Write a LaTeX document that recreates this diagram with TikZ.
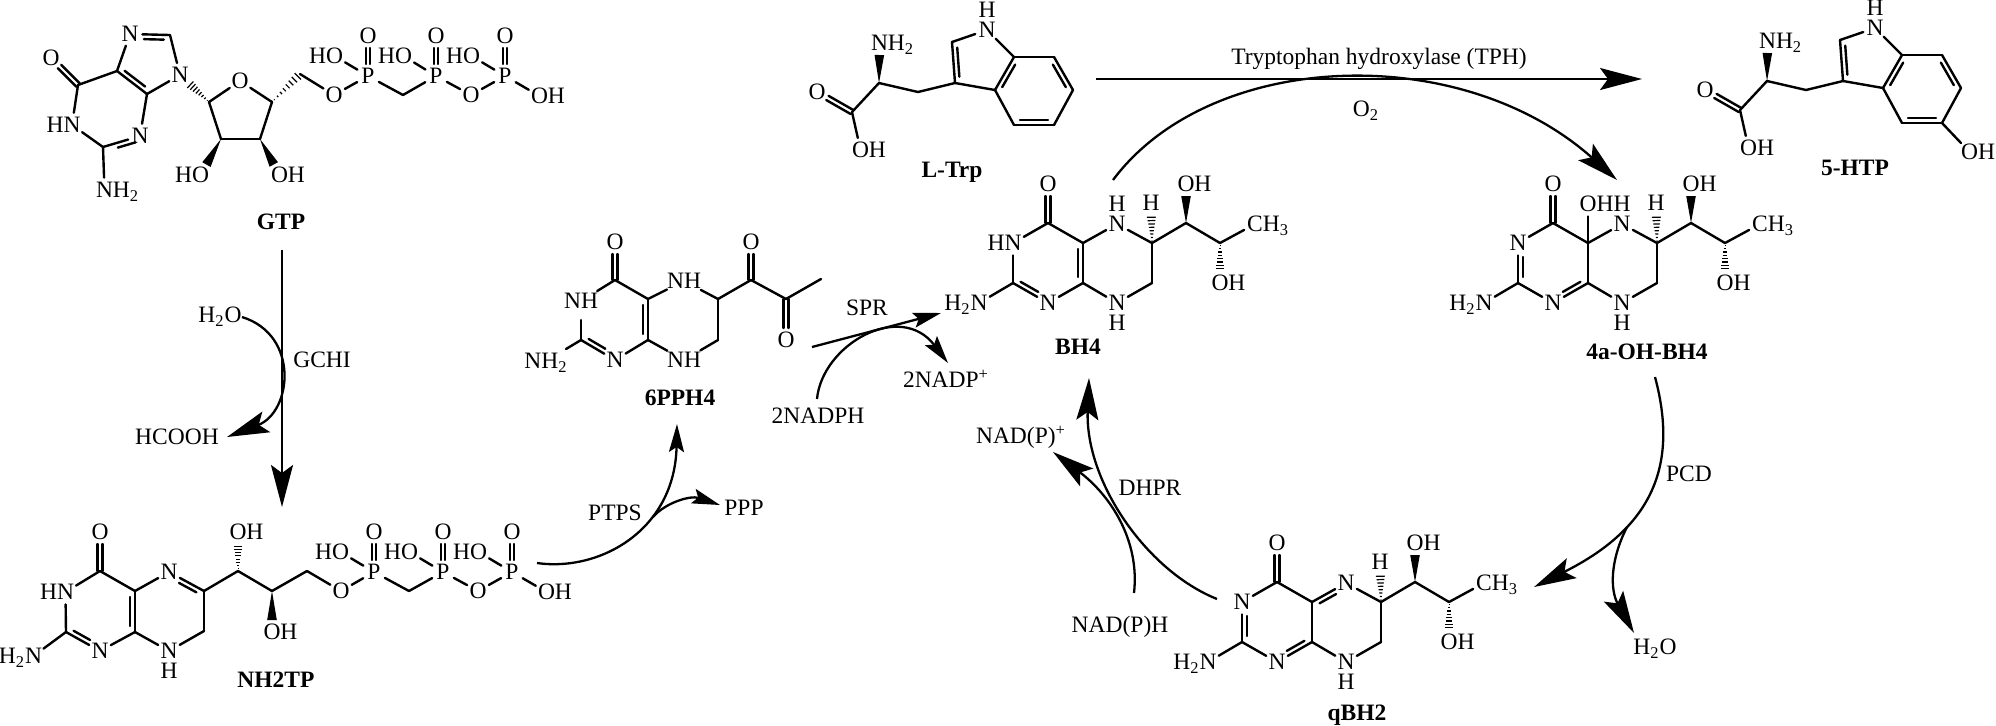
\documentclass[tikz,border=0pt]{standalone}
\usepackage{fontspec}
\setmainfont{Liberation Serif}
\usetikzlibrary{calc,arrows.meta}
\tikzset{
  atom/.style={circle,inner sep=0pt,minimum size=12pt,text height=7.8pt,text depth=0pt,font=\fontsize{11.75}{13}\selectfont},
  lbl/.style={inner sep=0pt,text height=7.8pt,text depth=0pt,font=\fontsize{11.75}{13}\selectfont},
  name lbl/.style={lbl,font=\fontsize{11.75}{13}\selectfont\bfseries},
  bond/.style={line width=1.2pt,line cap=round,line join=round},
  rxn/.style={line width=1.15pt},
  big/.style={rxn,-{Stealth[length=21pt,width=11pt,inset=4pt]}},
  small/.style={rxn,-{Stealth[length=14pt,width=7.5pt,inset=2.5pt]}},
}
\newcommand\atm[3]{\node[atom] (#1) at (#2) {#3};}
\newcommand\crd[2]{\coordinate (#1) at (#2);}
\newcommand\bd[2]{\draw[bond] (#1) -- (#2);}
% parallel line: a, b, offset, trim at a, trim at b
\newcommand\pl[5]{%
  \coordinate (tmpP) at ($(#1)!#3!90:(#2)$);
  \coordinate (tmpQ) at ($(#2)!#3!-90:(#1)$);
  \draw[bond] ($(tmpP)!#4!(tmpQ)$) -- ($(tmpQ)!#5!(tmpP)$);}
\newcommand\dbl[3]{\bd{#1}{#2}\pl{#1}{#2}{#3}{3pt}{3pt}}
\newcommand\dbla[3]{\bd{#1}{#2}\pl{#1}{#2}{#3}{3pt}{7pt}}
\newcommand\dblb[3]{\bd{#1}{#2}\pl{#1}{#2}{#3}{7pt}{3pt}}
\newcommand\coO[2]{\pl{#1}{#2}{1.2pt}{0pt}{6pt}\pl{#1}{#2}{-1.2pt}{0pt}{6pt}}
\newcommand\poO[2]{\pl{#1}{#2}{1.1pt}{6pt}{6pt}\pl{#1}{#2}{-1.1pt}{6pt}{6pt}}
% stereo bonds: tip, far end, trim at the far end
\newcommand\wdg[3]{%
  \coordinate (tmpE) at ($(#2)!#3!(#1)$);
  \coordinate (tmpA) at ($(tmpE)!2.4pt!90:(#1)$);
  \coordinate (tmpB) at ($(tmpE)!2.4pt!-90:(#1)$);
  \fill (#1) -- (tmpA) -- (tmpB) -- cycle;}
\newcommand\hsh[3]{%
  \coordinate (tmpE) at ($(#2)!#3!(#1)$);
  \coordinate (tmpA) at ($(tmpE)!2.4pt!90:(#1)$);
  \coordinate (tmpB) at ($(tmpE)!2.4pt!-90:(#1)$);
  \foreach \t in {0.08,0.2,0.32,0.44,0.56,0.68,0.8,0.92}{\draw[line width=0.6pt] ($(#1)!\t!(tmpA)$) -- ($(#1)!\t!(tmpB)$);}}
% shared pterin skeleton with 1,2-diol side chain; #1 prefix, #2 shift, #3 N3 text, #4 N5 text
\newcommand\pterin[4]{%
\begin{scope}[shift={(#2)}]
  \atm{#1Oc}{1553,184}{O}\crd{#1C4}{1553,223}\atm{#1N3}{1518,243}{#3}\crd{#1C2}{1518,283}
  \atm{#1Na}{1484,303}{\llap{H\textsubscript{2}}N}\atm{#1N1}{1553,303}{N}\crd{#1C8a}{1588,283}\crd{#1C4a}{1588,243}
  \atm{#1N5}{1622,224}{#4}\crd{#1C6}{1657,243}\crd{#1C7}{1657,283}\atm{#1N8}{1622,303}{N}\node[lbl] (#1H8) at (1622,323) {H};
  \atm{#1H6}{1656,203}{H}\crd{#1Ca}{1691,223}\atm{#1Ob}{1691,184}{O\rlap{H}}\crd{#1Cb}{1725,243}\atm{#1Od}{1725,283}{O\rlap{H}}
  \atm{#1Me}{1760,224}{C\rlap{H\textsubscript{3}}}
\end{scope}
\coO{#1C4}{#1Oc}\bd{#1C4}{#1N3}\bd{#1C2}{#1Na}\bd{#1C4}{#1C4a}\bd{#1C4a}{#1N5}\bd{#1N5}{#1C6}\bd{#1C6}{#1C7}\bd{#1C7}{#1N8}\bd{#1N8}{#1C8a}
\bd{#1C6}{#1Ca}\bd{#1Ca}{#1Cb}\bd{#1Cb}{#1Me}
\hsh{#1C6}{#1H6}{6pt}\wdg{#1Ca}{#1Ob}{6pt}\hsh{#1Cb}{#1Od}{6pt}}
% indole amino acid
\newcommand\indole[2]{%
\begin{scope}[shift={(#2)}]
  \atm{#1Na}{879.5,43}{N\rlap{H\textsubscript{2}}}\crd{#1Ca}{879,83}\atm{#1Oa}{817,92}{O}\crd{#1Cc}{852,112}\atm{#1Ob}{860.5,150}{O\rlap{H}}
  \crd{#1Cm}{918,92}\crd{#1C3}{955,83}\crd{#1C2}{952,42}\atm{#1N}{987,30}{N}\node[lbl] (#1H) at (987,9.5) {H};
  \crd{#1C3a}{995,90}\crd{#1C7a}{1014,57}\crd{#1C7}{1054,57}\crd{#1C6}{1073,90}\crd{#1C5}{1054,125}\crd{#1C4}{1014,125}
\end{scope}
\wdg{#1Ca}{#1Na}{6pt}\bd{#1Ca}{#1Cc}\coO{#1Cc}{#1Oa}\bd{#1Cc}{#1Ob}\bd{#1Ca}{#1Cm}\bd{#1Cm}{#1C3}
\dbl{#1C3}{#1C2}{-2.4pt}\bd{#1C2}{#1N}\bd{#1N}{#1C7a}\bd{#1C3}{#1C3a}\dbl{#1C3a}{#1C7a}{-2.4pt}\bd{#1C7a}{#1C7}\dbl{#1C7}{#1C6}{-2.4pt}\bd{#1C6}{#1C5}\dbl{#1C5}{#1C4}{-2.4pt}\bd{#1C4}{#1C3a}}
\begin{document}
\begin{tikzpicture}[x=0.5pt,y=-0.5pt]
\fill[white] (0,0) rectangle (1996,725);
\useasboundingbox (0,0) rectangle (1996,725);
% ---------- GTP
\atm{gO}{51,58}{O}\crd{gC6}{78,85}\crd{gC5}{117,71}\crd{gC4}{147,94}\atm{gN7}{130,34}{N}\crd{gC8}{170,35}\atm{gN9}{180,75}{N}
\atm{gN1}{72,125}{\llap{H}N}\crd{gC2}{103,147}\atm{gN3}{140,136}{N}\atm{gN2}{104.5,190}{N\rlap{H\textsubscript{2}}}
\atm{gRO}{240,81}{O}\crd{gR1}{209,102}\crd{gR2}{221,139}\crd{gR3}{260,139}\crd{gR4}{272,102}\crd{gR5}{300,74}
\atm{gO5}{334,95}{O}\atm{gP1}{368,76}{P}\atm{gP1o}{368,36}{O}\atm{gP1h}{334.5,56}{\llap{H}O}\crd{gCm}{403,95}
\atm{gP2}{436,76}{P}\atm{gP2o}{436,36}{O}\atm{gP2h}{403.5,56}{\llap{H}O}\atm{gO6}{471,95}{O}
\atm{gP3}{505,76}{P}\atm{gP3o}{505,36}{O}\atm{gP3h}{471.5,56}{\llap{H}O}\atm{gP3e}{539.5,96}{O\rlap{H}}
\atm{gOa}{200.5,175}{\llap{H}O}\atm{gOb}{279.5,175}{O\rlap{H}}
\node[name lbl] (gtp) at (281,222) {GTP};
\coO{gC6}{gO}\bd{gC6}{gC5}\dbl{gC5}{gC4}{2.4pt}\bd{gC5}{gN7}\dbla{gC8}{gN7}{2.4pt}\bd{gC8}{gN9}\bd{gN9}{gC4}\bd{gC4}{gN3}
\dbla{gN3}{gC2}{2.4pt}\bd{gC2}{gN1}\bd{gN1}{gC6}\bd{gC2}{gN2}
\hsh{gR1}{gN9}{6pt}\bd{gR1}{gRO}\bd{gRO}{gR4}\bd{gR4}{gR3}\bd{gR3}{gR2}\bd{gR2}{gR1}
\wdg{gR2}{gOa}{6pt}\wdg{gR3}{gOb}{6pt}\hsh{gR4}{gR5}{0pt}\bd{gR5}{gO5}\bd{gO5}{gP1}\poO{gP1}{gP1o}\bd{gP1}{gP1h}\bd{gP1}{gCm}\bd{gCm}{gP2}
\poO{gP2}{gP2o}\bd{gP2}{gP2h}\bd{gP2}{gO6}\bd{gO6}{gP3}\poO{gP3}{gP3o}\bd{gP3}{gP3h}\bd{gP3}{gP3e}
% ---------- NH2TP
\atm{nO}{100,532}{O}\crd{nC4}{100,571}\atm{nN3}{65.5,592}{\llap{H}N}\crd{nC2}{66,632}\atm{nNa}{33.5,656}{\llap{H\textsubscript{2}}N}\atm{nN1}{100,651}{N}
\crd{nC8a}{135,632}\crd{nC4a}{135,591}\atm{nN5}{169,572}{N}\crd{nC6}{204,591}\crd{nC7}{204,631}\atm{nN8}{169,651}{N}\node[lbl] (nH8) at (169,671) {H};
\crd{nCa}{238,571}\atm{nOa}{238,532}{O\rlap{H}}\crd{nCb}{272,591}\atm{nOb}{272,632}{O\rlap{H}}\crd{nCc}{307,571}\atm{nO5}{341,591}{O}
\atm{nP1}{374,572}{P}\atm{nP1o}{374,532}{O}\atm{nP1h}{340.5,552}{\llap{H}O}\crd{nCm}{409,591}
\atm{nP2}{443,572}{P}\atm{nP2o}{443,532}{O}\atm{nP2h}{409.5,552}{\llap{H}O}\atm{nO6}{478,591}{O}
\atm{nP3}{512,572}{P}\atm{nP3o}{512,532}{O}\atm{nP3h}{478.5,552}{\llap{H}O}\atm{nP3e}{546.5,592}{O\rlap{H}}
\node[name lbl] (nh2tp) at (276,680) {NH2TP};
\coO{nC4}{nO}\bd{nC4}{nN3}\bd{nN3}{nC2}\bd{nC2}{nNa}\dbla{nC2}{nN1}{2.4pt}\bd{nN1}{nC8a}\dbl{nC4a}{nC8a}{-2.4pt}\bd{nC4}{nC4a}\bd{nC4a}{nN5}
\dblb{nN5}{nC6}{-2.4pt}\bd{nC6}{nC7}\bd{nC7}{nN8}\bd{nN8}{nC8a}\bd{nC6}{nCa}\bd{nCa}{nCb}\bd{nCb}{nCc}\bd{nCc}{nO5}\bd{nO5}{nP1}
\hsh{nCa}{nOa}{6pt}\wdg{nCb}{nOb}{6pt}\poO{nP1}{nP1o}\bd{nP1}{nP1h}\bd{nP1}{nCm}\bd{nCm}{nP2}\poO{nP2}{nP2o}\bd{nP2}{nP2h}\bd{nP2}{nO6}\bd{nO6}{nP3}\poO{nP3}{nP3o}\bd{nP3}{nP3h}\bd{nP3}{nP3e}
% ---------- 6PPH4
\atm{pO}{615,242}{O}\crd{pC4}{615,280}\atm{pN3}{581,301}{NH}\crd{pC2}{581,340}\atm{pNa}{546,361}{NH\textsubscript{2}}\atm{pN1}{615,360}{N}
\crd{pC8a}{648,340}\crd{pC4a}{648,299}\atm{pN5}{684,281}{NH}\crd{pC6}{718,299}\crd{pC7}{718,340}\atm{pN8}{684,360}{NH}
\crd{pCa}{751,280}\atm{pOa}{751,242}{O}\crd{pCb}{786,299}\atm{pOb}{786,340}{O}\crd{pMe}{821,279}
\node[name lbl] (pph) at (680,398) {6PPH4};
\coO{pC4}{pO}\bd{pC4}{pN3}\bd{pN3}{pC2}\bd{pC2}{pNa}\dbla{pC2}{pN1}{2.4pt}\bd{pN1}{pC8a}\dbl{pC4a}{pC8a}{-2.4pt}\bd{pC4}{pC4a}\bd{pC4a}{pN5}\bd{pN5}{pC6}\bd{pC6}{pC7}\bd{pC7}{pN8}\bd{pN8}{pC8a}
\bd{pC6}{pCa}\coO{pCa}{pOa}\bd{pCa}{pCb}\coO{pCb}{pOb}\bd{pCb}{pMe}
% ---------- L-Trp and 5-HTP
\indole{t}{0,0}
\node[name lbl] (trp) at (952,170) {L-Trp};
\indole{h}{888,-2}
\atm{hOH}{1969.5,152}{O\rlap{H}}\bd{hC5}{hOH}
\node[name lbl] (htp) at (1855,168) {5-HTP};
% ---------- BH4
\pterin{b}{-505,0}{\llap{H}N}{N}
\node[lbl] (bH5) at (1117,204) {H};
\dbla{bC2}{bN1}{2.4pt}\bd{bN3}{bC2}\bd{bN1}{bC8a}\dbl{bC4a}{bC8a}{-2.4pt}
\node[name lbl] (bh4) at (1078,347) {BH4};
% ---------- 4a-OH-BH4
\pterin{o}{0,0}{N}{N}
\node[lbl] (oH5) at (1622,204) {H};\atm{oOH}{1588,204}{O\rlap{H}}\bd{oC4a}{oOH}
\dblb{oN3}{oC2}{2.4pt}\bd{oC2}{oN1}\dbla{oC8a}{oN1}{-2.4pt}\bd{oC4a}{oC8a}
\node[name lbl] (oh4) at (1647,352) {4a-OH-BH4};
% ---------- qBH2
\pterin{q}{-276,359}{N}{N}
\dblb{qN3}{qC2}{2.4pt}\bd{qC2}{qN1}\dbla{qC8a}{qN1}{-2.4pt}\bd{qC4a}{qC8a}
\pl{qC4a}{qN5}{-2.4pt}{3pt}{7pt}
\node[name lbl] (qh2) at (1357,713) {qBH2};
% ---------- reaction labels
\node[lbl] (lT) at (1379,57) {Tryptophan hydroxylase (TPH)};
\node[lbl] (lO2) at (1366,109) {O\textsubscript{2}};
\node[lbl] (lW1) at (220,315) {H\textsubscript{2}O};
\node[lbl] (lFA) at (177,437) {HCOOH};
\node[lbl] (lG) at (322,360) {GCHI};
\node[lbl] (lPT) at (615,513) {PTPS};
\node[lbl] (lPPP) at (744,508) {PPP};
\node[lbl] (lS) at (867,308) {SPR};
\node[lbl] (lNP) at (818,416) {2NADPH};
\node[lbl] (lNPp) at (946,380) {2NADP\textsuperscript{+}};
\node[lbl] (lDH) at (1150,488) {DHPR};
\node[lbl] (lNH) at (1120,625) {NAD(P)H};
\node[lbl] (lNp) at (1021,436) {NAD(P)\textsuperscript{+}};
\node[lbl] (lPC) at (1689,474) {PCD};
\node[lbl] (lW2) at (1655,647) {H\textsubscript{2}O};
% ---------- reaction arrows
\crd{aTs}{1096,79}\crd{aTe}{1642,79}\draw[big] (aTs) -- (aTe);
\crd{aBs}{1113,180}\crd{aBe}{1617,180}\draw[big] (aBs) .. controls (1210,50) and (1460,40) .. (aBe);
\crd{aGs}{282,250}\crd{aGe}{282,507}\draw[big] (aGs) -- (aGe);
\crd{aWs}{242,317}\crd{aWe}{227,437}\draw[big] (aWs) .. controls (300,335) and (292,412) .. (aWe);
\crd{aPs}{537,563}\crd{aPe}{677,424}\draw[small] (aPs) .. controls (600,572) and (675,530) .. (aPe);
\crd{aPb}{653,517}\crd{aPf}{720,505}\draw[small] (aPb) .. controls (665,503) and (690,495) .. (aPf);
\crd{aSs}{812,347}\crd{aSe}{941,313}\draw[small] (aSs) -- (aSe);
\crd{aNs}{817,399}\crd{aNe}{948,363}\draw[small] (aNs) .. controls (822,345) and (900,300) .. (aNe);
\crd{aDs}{1217,599}\crd{aDe}{1089,378}\draw[big] (aDs) .. controls (1145,570) and (1085,480) .. (aDe);
\crd{aHs}{1134,593}\crd{aHe}{1053,452}\draw[big] (aHs) .. controls (1140,540) and (1110,495) .. (aHe);
\crd{aQs}{1655,377}\crd{aQe}{1534,587}\draw[big] (aQs) .. controls (1680,470) and (1648,530) .. (aQe);
\crd{aXs}{1627,527}\crd{aXe}{1634,633}\draw[big] (aXs) .. controls (1610,560) and (1610,590) .. (aXe);
\end{tikzpicture}
\end{document}
